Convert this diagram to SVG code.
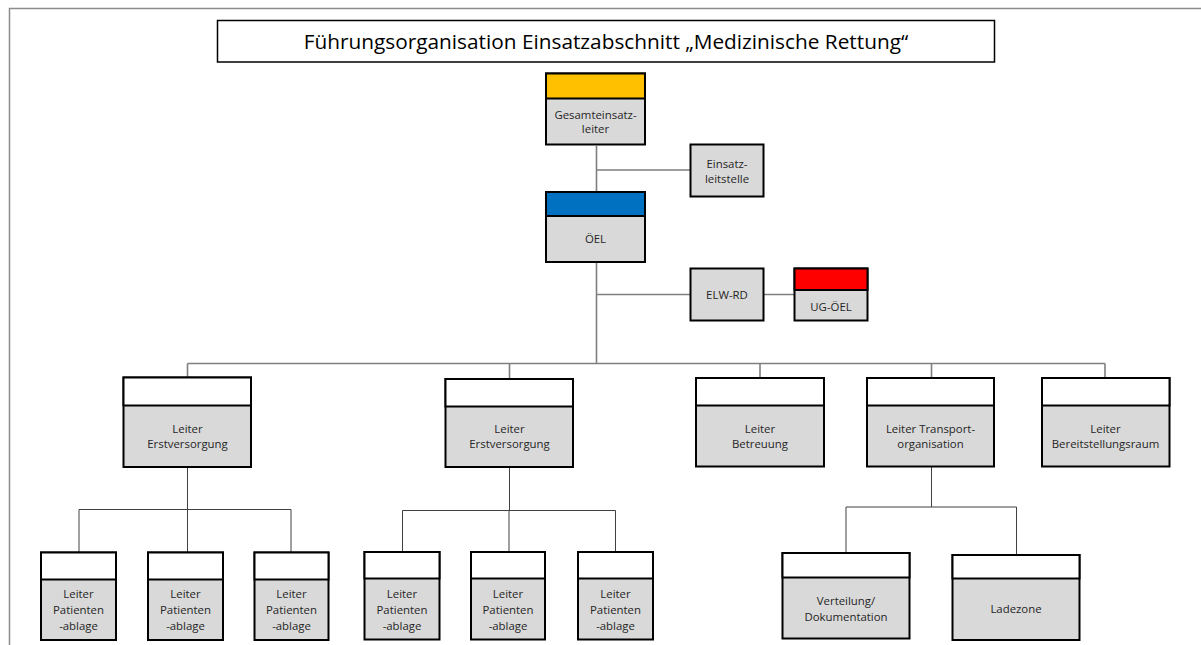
<svg xmlns="http://www.w3.org/2000/svg" width="1201" height="645" viewBox="0 0 1201 645">
  <style>
    .frame { fill: none; stroke: #8c8c8c; stroke-width: 1.5; }
    .title { fill: #ffffff; stroke: #000000; stroke-width: 1.5; }
    .title-text { font-family: "Open Sans", "Liberation Sans", sans-serif; font-size: 20.8px; fill: #000000; text-anchor: middle; }
    .body { fill: #d9d9d9; stroke: #000000; stroke-width: 2; }
    .band { stroke: #000000; stroke-width: 2; }
    .white { fill: #ffffff; }
    .yellow { fill: #ffc000; }
    .blue { fill: #0070c0; }
    .red { fill: #ff0000; }
    .label { font-family: "Open Sans", "Liberation Sans", sans-serif; font-size: 11.4px; fill: #262626; text-anchor: middle; }
    .conn { fill: none; stroke: #7f7f7f; stroke-width: 1.6; }
    .conn-thin { fill: none; stroke: #404040; stroke-width: 1; }
  </style>

  <rect x="0" y="0" width="1201" height="645" fill="#ffffff"/>
  <!-- page frame -->
  <path class="frame" d="M9.5,645 V8.5 H1201"/>

  <!-- title -->
  <g id="title">
    <rect class="title" x="217.5" y="20.5" width="777" height="41.5"/>
    <text class="title-text" x="606" y="48.5">Führungsorganisation Einsatzabschnitt „Medizinische Rettung“</text>
  </g>

  <!-- connectors -->
  <g id="connectors">
    <path class="conn" d="M596.5,146 V192 M596.5,170 H690"/>
    <path class="conn" d="M596.5,262 V363.5 M596.5,294.5 H690 M763,294.5 H794"/>
    <path class="conn" d="M187.5,363.5 H1105 M187.5,363.5 V377 M509.5,363.5 V379 M760,363.5 V378 M931.5,363.5 V378 M1105,363.5 V378"/>
    <path class="conn-thin" d="M187.5,467 V509.5 M79,509.5 H291 M79,509.5 V552 M187.5,509.5 V552 M291,509.5 V552"/>
    <path class="conn-thin" d="M509.5,467 V510.5 M402.5,510.5 H615.5 M402.5,510.5 V552 M509,510.5 V552 M615.5,510.5 V552"/>
    <path class="conn-thin" d="M931.5,467 V507 M846,507 H1016.5 M846,507 V553 M1016.5,507 V555"/>
  </g>

  <!-- top command -->
  <g id="gesamteinsatzleiter">
    <rect class="body" x="546" y="73.5" width="99" height="71"/>
    <rect class="band yellow" x="546" y="73.5" width="99" height="25"/>
    <text class="label" x="595.5" y="118.5">Gesamteinsatz-</text>
    <text class="label" x="595.5" y="133">leiter</text>
  </g>

  <g id="einsatzleitstelle">
    <rect class="body" x="690.5" y="144.5" width="73" height="52"/>
    <text class="label" x="727" y="168">Einsatz-</text>
    <text class="label" x="727" y="183">leitstelle</text>
  </g>

  <g id="oeel">
    <rect class="body" x="546" y="192" width="99" height="70"/>
    <rect class="band blue" x="546" y="192" width="99" height="24"/>
    <text class="label" x="595.5" y="243">ÖEL</text>
  </g>

  <g id="elw-rd">
    <rect class="body" x="690.5" y="268.5" width="73" height="52"/>
    <text class="label" x="727" y="298.5">ELW-RD</text>
  </g>

  <g id="ug-oeel">
    <rect class="body" x="794.5" y="268.5" width="73" height="52"/>
    <rect class="band red" x="794.5" y="268.5" width="73" height="21.5"/>
    <text class="label" x="831" y="311">UG-ÖEL</text>
  </g>

  <!-- section leaders -->
  <g id="erstversorgung-1">
    <rect class="body" x="123.5" y="377.5" width="127.5" height="89.5"/>
    <rect class="band white" x="123.5" y="377.5" width="127.5" height="28"/>
    <text class="label" x="187.5" y="433">Leiter</text>
    <text class="label" x="187.5" y="448">Erstversorgung</text>
  </g>

  <g id="erstversorgung-2">
    <rect class="body" x="445.5" y="379" width="127.5" height="88"/>
    <rect class="band white" x="445.5" y="379" width="127.5" height="27.5"/>
    <text class="label" x="509.5" y="433">Leiter</text>
    <text class="label" x="509.5" y="448">Erstversorgung</text>
  </g>

  <g id="betreuung">
    <rect class="body" x="696" y="378" width="128" height="88.5"/>
    <rect class="band white" x="696" y="378" width="128" height="27.5"/>
    <text class="label" x="760" y="433">Leiter</text>
    <text class="label" x="760" y="448">Betreuung</text>
  </g>

  <g id="transportorganisation">
    <rect class="body" x="867" y="378" width="127" height="88.5"/>
    <rect class="band white" x="867" y="378" width="127" height="27.5"/>
    <text class="label" x="930.5" y="433">Leiter Transport-</text>
    <text class="label" x="930.5" y="448">organisation</text>
  </g>

  <g id="bereitstellungsraum">
    <rect class="body" x="1042" y="378" width="127.5" height="88.5"/>
    <rect class="band white" x="1042" y="378" width="127.5" height="27.5"/>
    <text class="label" x="1105.5" y="433">Leiter</text>
    <text class="label" x="1105.5" y="448">Bereitstellungsraum</text>
  </g>

  <!-- patient collection points, group 1 -->
  <g id="patientenablage-1a">
    <rect class="body" x="41" y="552.5" width="75" height="87.5"/>
    <rect class="band white" x="41" y="552.5" width="75" height="27"/>
    <text class="label" x="78.5" y="598">Leiter</text>
    <text class="label" x="78.5" y="614">Patienten</text>
    <text class="label" x="78.5" y="630">-ablage</text>
  </g>
  <g id="patientenablage-1b">
    <rect class="body" x="148" y="552.5" width="75" height="87.5"/>
    <rect class="band white" x="148" y="552.5" width="75" height="27"/>
    <text class="label" x="185.5" y="598">Leiter</text>
    <text class="label" x="185.5" y="614">Patienten</text>
    <text class="label" x="185.5" y="630">-ablage</text>
  </g>
  <g id="patientenablage-1c">
    <rect class="body" x="254.5" y="552.5" width="74" height="87.5"/>
    <rect class="band white" x="254.5" y="552.5" width="74" height="27"/>
    <text class="label" x="291.5" y="598">Leiter</text>
    <text class="label" x="291.5" y="614">Patienten</text>
    <text class="label" x="291.5" y="630">-ablage</text>
  </g>

  <!-- patient collection points, group 2 -->
  <g id="patientenablage-2a">
    <rect class="body" x="364.5" y="552" width="75" height="87.5"/>
    <rect class="band white" x="364.5" y="552" width="75" height="26.5"/>
    <text class="label" x="402" y="598">Leiter</text>
    <text class="label" x="402" y="614">Patienten</text>
    <text class="label" x="402" y="630">-ablage</text>
  </g>
  <g id="patientenablage-2b">
    <rect class="body" x="471" y="552" width="74" height="87.5"/>
    <rect class="band white" x="471" y="552" width="74" height="26.5"/>
    <text class="label" x="508" y="598">Leiter</text>
    <text class="label" x="508" y="614">Patienten</text>
    <text class="label" x="508" y="630">-ablage</text>
  </g>
  <g id="patientenablage-2c">
    <rect class="body" x="578" y="552" width="75" height="87.5"/>
    <rect class="band white" x="578" y="552" width="75" height="26.5"/>
    <text class="label" x="615.5" y="598">Leiter</text>
    <text class="label" x="615.5" y="614">Patienten</text>
    <text class="label" x="615.5" y="630">-ablage</text>
  </g>

  <!-- transport subunits -->
  <g id="verteilung-dokumentation">
    <rect class="body" x="782.5" y="553" width="127" height="85.5"/>
    <rect class="band white" x="782.5" y="553" width="127" height="24.5"/>
    <text class="label" x="846" y="605">Verteilung/</text>
    <text class="label" x="846" y="621">Dokumentation</text>
  </g>
  <g id="ladezone">
    <rect class="body" x="952.5" y="555" width="127" height="85"/>
    <rect class="band white" x="952.5" y="555" width="127" height="23.5"/>
    <text class="label" x="1016" y="613">Ladezone</text>
  </g>
</svg>
